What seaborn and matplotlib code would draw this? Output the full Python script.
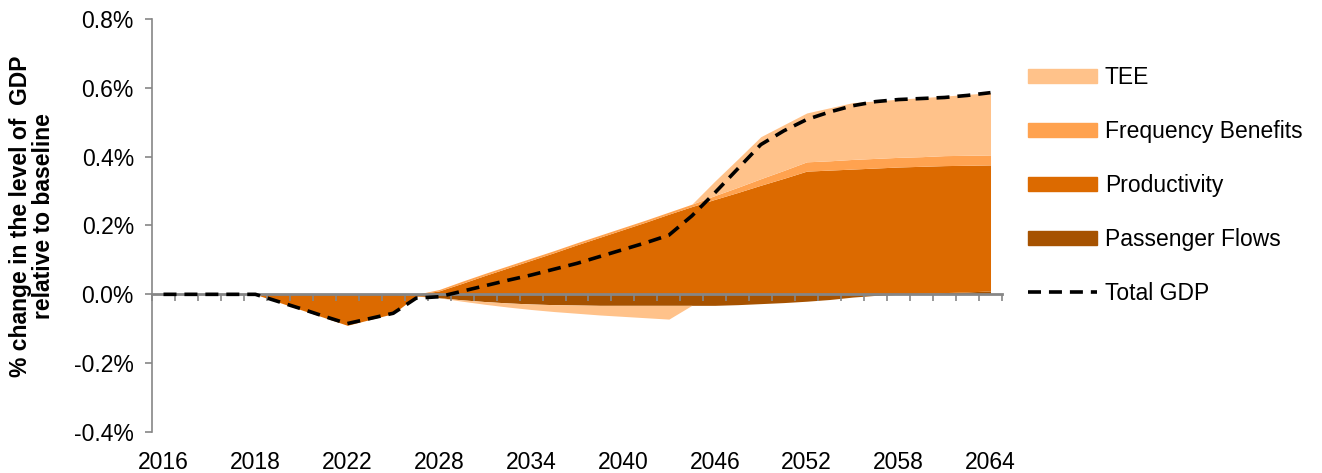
import numpy as np
import pandas as pd
import matplotlib
matplotlib.use("Agg")
import matplotlib.pyplot as plt
import matplotlib.patches as mpatches
from matplotlib.lines import Line2D
from matplotlib.ticker import FuncFormatter
import seaborn as sns

## Chart data - % change in GDP level relative to baseline, 37 periods on a category axis

n_periods = 37
year_labels = ['2016', '2018', '2022', '2028', '2034', '2040', '2046', '2052', '2058', '2064']
label_step = 4

passenger_flows = [0, 0, 0, 0, 0, 0, 0, 0, 0, 0, 0,
                   -0.003, -0.010, -0.016, -0.021, -0.025, -0.028, -0.030, -0.031, -0.032, -0.032,
                   -0.032, -0.032, -0.032, -0.032, -0.030, -0.027, -0.024, -0.020, -0.015, -0.008,
                   -0.003, 0.000, 0.003, 0.005, 0.007, 0.010]

productivity = [0, 0, 0, 0, 0, -0.0225, -0.045, -0.0675, -0.090, -0.073, -0.056,
                -0.002, 0.010, 0.032, 0.055, 0.077, 0.099, 0.121, 0.144, 0.166, 0.188,
                0.210, 0.233, 0.255, 0.276, 0.296, 0.317, 0.337, 0.358, 0.361, 0.364,
                0.367, 0.370, 0.369, 0.369, 0.368, 0.366]

frequency_benefits = [0, 0, 0, 0, 0, 0, 0, 0, 0, 0, 0,
                      0, 0.004, 0.006, 0.006, 0.006, 0.006, 0.006, 0.006, 0.006, 0.006,
                      0.006, 0.006, 0.007, 0.011, 0.015, 0.019, 0.023, 0.027, 0.027, 0.028,
                      0.028, 0.028, 0.028, 0.029, 0.029, 0.029]

tee = [0, 0, 0, 0, 0, 0, 0, 0, 0, 0, 0,
       0, 0, -0.004, -0.008, -0.012, -0.016, -0.020, -0.024, -0.028, -0.032,
       -0.036, -0.040, 0.000, 0.042, 0.082, 0.122, 0.1325, 0.142, 0.154, 0.165,
       0.167, 0.169, 0.1715, 0.173, 0.177, 0.181]

total_gdp = [0, 0, 0, 0, 0, -0.021, -0.042, -0.064, -0.085, -0.070, -0.055,
             -0.011, -0.007, 0.009, 0.025, 0.041, 0.056, 0.073, 0.090, 0.110, 0.130,
             0.150, 0.172, 0.228, 0.295, 0.365, 0.435, 0.475, 0.508, 0.530, 0.548,
             0.560, 0.566, 0.569, 0.572, 0.578, 0.586]

series_names = ['Passenger Flows', 'Productivity', 'Frequency Benefits', 'TEE']
series_colours = ['#A65200', '#DC6A00', '#FFA24F', '#FFC28A']


def BuildDataframe():

    dfData = pd.DataFrame({
        'period': np.arange(n_periods),
        'Passenger Flows': passenger_flows,
        'Productivity': productivity,
        'Frequency Benefits': frequency_benefits,
        'TEE': tee,
        'Total GDP': total_gdp,
    })
    return dfData


def DrawStackedAreas(ax, dfData):

    # Positive and negative parts are stacked separately away from the zero line
    x = dfData['period'].values
    posBase = np.zeros(n_periods)
    negBase = np.zeros(n_periods)
    for sName, sColour in zip(series_names, series_colours):
        vals = dfData[sName].values
        pos = np.clip(vals, 0, None)
        neg = np.clip(vals, None, 0)
        ax.fill_between(x, posBase, posBase + pos, color=sColour, lw=0, zorder=1)
        ax.fill_between(x, negBase, negBase + neg, color=sColour, lw=0, zorder=1)
        posBase = posBase + pos
        negBase = negBase + neg


sns.set_theme(style="white")
plt.rcParams['font.family'] = ['Liberation Sans', 'DejaVu Sans']
plt.rcParams['text.color'] = 'black'
plt.rcParams['xtick.color'] = 'black'
plt.rcParams['ytick.color'] = 'black'
plt.rcParams['axes.labelcolor'] = 'black'

fontSize = 16.5

dfData = BuildDataframe()

fig = plt.figure(figsize=(13.22, 4.73), dpi=100)
ax = fig.add_axes([152 / 1322, 1 - 432 / 473, 850 / 1322, 413 / 473])

DrawStackedAreas(ax, dfData)

sns.lineplot(data=dfData, x='period', y='Total GDP', ax=ax, color='black', lw=2.6,
             linestyle=(0, (3.6, 2.2)), legend=False, zorder=5)

axisGrey = '#868686'
ax.set_xlim(-0.5, n_periods - 0.5)
ax.set_ylim(-0.4, 0.8)

# Y axis
ax.set_yticks(np.arange(-0.4, 0.81, 0.2))
ax.yaxis.set_major_formatter(FuncFormatter(lambda v, p: "{:.1f}%".format(v)))
ax.tick_params(axis='y', which='major', direction='out', length=5, width=1.2,
               color=axisGrey, labelcolor='black', pad=8, labelsize=fontSize, left=True)
ax.spines['left'].set_color(axisGrey)
ax.spines['left'].set_linewidth(1.2)
for s in ['top', 'right', 'bottom']:
    ax.spines[s].set_visible(False)

# X labels sit low, axis line with category ticks sits at zero
ax.set_xticks(np.arange(0, n_periods, label_step))
ax.set_xticklabels(year_labels)
ax.tick_params(axis='x', which='major', length=0, pad=14, labelsize=fontSize, labelcolor='black')
ax.set_xlabel('')

secAx = ax.secondary_xaxis(1 / 3)
secAx.set_xticks(np.arange(-0.5, n_periods, 1.0))
secAx.set_xticklabels([])
secAx.tick_params(axis='x', direction='out', length=5, width=1.2, color=axisGrey)
secAx.spines['bottom'].set_color(axisGrey)
secAx.spines['bottom'].set_linewidth(2)
secAx.set_zorder(3)

ax.set_ylabel("% change in the level of  GDP\nrelative to baseline", fontsize=fontSize,
              fontweight='bold', linespacing=1.0)
ax.yaxis.set_label_coords(-0.114, 0.523)

# Legend on the right
legHandles = [mpatches.Patch(color=c) for c in series_colours[::-1]]
legHandles.append(Line2D([], [], color='black', lw=2.6, linestyle=(0, (3.6, 2.2))))
legLabels = series_names[::-1] + ['Total GDP']
fig.legend(legHandles, legLabels, loc='upper left', bbox_to_anchor=(1028 / 1322, 1 - 66 / 473),
           frameon=False, fontsize=fontSize, handlelength=3.0, handleheight=0.57,
           handletextpad=0.35, labelspacing=1.35, borderpad=0, borderaxespad=0)

plt.savefig('out.png', dpi=100)
